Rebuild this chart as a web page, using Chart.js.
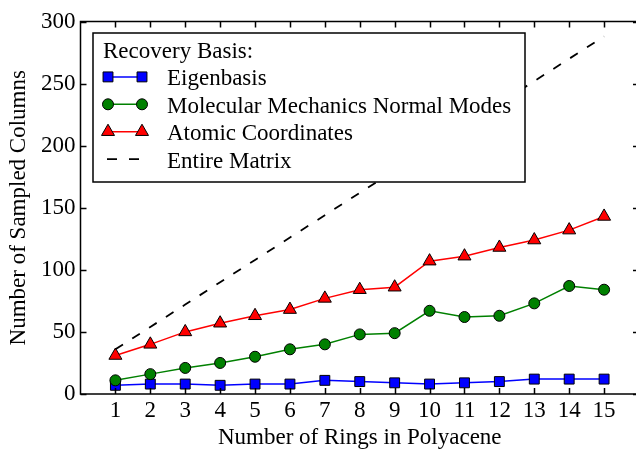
<!DOCTYPE html>
<html><head><meta charset="utf-8">
<script src="https://cdn.jsdelivr.net/npm/chart.js@4.4.0/dist/chart.umd.min.js"></script>
<style>html,body{margin:0;padding:0;background:#fff;overflow:hidden}canvas{display:block}</style>
</head><body>
<canvas id="c" width="639" height="449"></canvas>
<script>
const rings = [1,2,3,4,5,6,7,8,9,10,11,12,13,14,15];
const eigenbasis = [7,8,8,7,8,8,11,10,9,8,9,10,12,12,12];
const normalModes = [11,16,21,25,30,36,40,48,49,67,62,63,73,87,84];
const atomicCoords = [31,40,50,57,63,68,77,84,86,107,111,118,124,132,143];
const entireMatrix = [36,54,72,90,108,126,144,162,180,198,216,234,252,270,288];
const yTicks = [0,50,100,150,200,250,300];
const xTicks = rings;
const seriesNames = ['Eigenbasis','Molecular Mechanics Normal Modes','Atomic Coordinates','Entire Matrix'];
const legendTitle = 'Recovery Basis:';
const xTitle = 'Number of Rings in Polyacene';
const yTitle = 'Number of Sampled Columns';

const FONT = "'Liberation Serif', 'Times New Roman', serif";
Chart.defaults.font.family = FONT;
Chart.defaults.font.size = 23;
Chart.defaults.color = '#000';

const pts = arr => rings.map((r,i)=>({x:r,y:arr[i]}));

const styles = [
  {color:'#0000ff', pointStyle:'rect', radius:7},
  {color:'#008000', pointStyle:'circle', radius:5.5},
  {color:'#ff0000', pointStyle:'triangle', radius:7.5},
  {color:'#000000', pointStyle:false, radius:0, dash:[9,11]}
];
const seriesData = [eigenbasis, normalModes, atomicCoords, entireMatrix];

const datasets = seriesData.map((d,i)=>({
  label: seriesNames[i],
  data: pts(d),
  borderColor: styles[i].color,
  backgroundColor: styles[i].color,
  borderWidth: styles[i].dash ? 1.8 : 1.5,
  borderDash: styles[i].dash || [],
  pointStyle: styles[i].pointStyle || 'circle',
  pointRadius: styles[i].radius,
  pointHoverRadius: styles[i].radius,
  pointBackgroundColor: styles[i].color,
  pointBorderColor: '#000',
  pointBorderWidth: 1,
  tension: 0,
  clip: false,
  order: 4 - i
}));

const framePlugin = {
  id: 'frame',
  afterDraw(chart) {
    const {ctx, chartArea: a, scales: {x, y}} = chart;
    ctx.save();
    ctx.strokeStyle = '#000';
    ctx.lineWidth = 1.5;
    ctx.beginPath();
    xTicks.forEach(v => {
      const px = Math.round(x.getPixelForValue(v)) + 0.5;
      ctx.moveTo(px, a.bottom); ctx.lineTo(px, a.bottom - 6);
      ctx.moveTo(px, a.top); ctx.lineTo(px, a.top + 6);
    });
    yTicks.forEach(v => {
      const py = Math.round(y.getPixelForValue(v)) + 0.5;
      ctx.moveTo(a.left, py); ctx.lineTo(a.left + 6, py);
      ctx.moveTo(a.right, py); ctx.lineTo(a.right - 6, py);
    });
    ctx.stroke();
    ctx.lineWidth = 1.5;
    ctx.strokeRect(a.left, a.top, a.right - a.left, a.bottom - a.top);

    // legend
    const L = 93, T = 33, R = 525, B = 182;
    ctx.fillStyle = '#fff';
    ctx.fillRect(L, T, R - L, B - T);
    ctx.strokeStyle = '#000';
    ctx.lineWidth = 1.5;
    ctx.strokeRect(L, T, R - L, B - T);
    ctx.font = '23px ' + FONT;
    ctx.fillStyle = '#000';
    ctx.textBaseline = 'alphabetic';
    ctx.textAlign = 'left';
    ctx.fillText(legendTitle, 103, 58);
    const step = 27.4;
    seriesNames.forEach((name, i) => {
      const base = 58 + step * (i + 1);
      const ly = base - 8.5;
      const st = styles[i];
      ctx.save();
      ctx.strokeStyle = st.color;
      ctx.lineWidth = st.dash ? 1.8 : 1.5;
      ctx.setLineDash(st.dash ? [10, 12] : []);
      ctx.beginPath();
      if (st.dash) { ctx.moveTo(107, ly); ctx.lineTo(141, ly); }
      else { ctx.moveTo(108, ly); ctx.lineTo(142, ly); }
      ctx.stroke();
      ctx.setLineDash([]);
      if (st.pointStyle) {
        ctx.fillStyle = st.color;
        ctx.strokeStyle = '#000';
        ctx.lineWidth = 1;
        [108, 142].forEach(px => Chart.helpers.drawPoint(ctx, {pointStyle: st.pointStyle, radius: st.radius, rotation: 0, borderWidth: 1}, px, ly));
      }
      ctx.restore();
      ctx.fillStyle = '#000';
      ctx.fillText(name, 167, base);
    });
    ctx.restore();
  }
};

new Chart(document.getElementById('c'), {
  type: 'line',
  data: { datasets },
  options: {
    responsive: false,
    animation: false,
    events: [],
    layout: { autoPadding: false, padding: { top: 21.5, right: 0, left: 0, bottom: 0 } },
    plugins: { legend: { display: false }, tooltip: { enabled: false } },
    scales: {
      x: {
        type: 'linear', min: 0, max: 16,
        afterBuildTicks: s => { s.ticks = xTicks.map(v => ({value: v})); },
        afterFit: s => { s.height = 55; s.paddingLeft = 0; s.paddingRight = 0; },
        grid: { display: false, drawTicks: false },
        border: { display: false },
        ticks: { padding: 3, autoSkip: false, maxRotation: 0, font: { size: 23 } },
        title: { display: true, text: xTitle, font: { size: 23, lineHeight: 1 }, padding: 0 }
      },
      y: {
        min: 0, max: 300,
        afterBuildTicks: s => { s.ticks = yTicks.map(v => ({value: v})); },
        afterFit: s => { s.width = 80.5; s.paddingTop = 0; s.paddingBottom = 0; },
        grid: { display: false, drawTicks: false },
        border: { display: false },
        ticks: { padding: 5, font: { size: 23 } },
        title: { display: true, text: yTitle, font: { size: 23 }, padding: { top: 5, bottom: 0 } }
      }
    }
  },
  plugins: [framePlugin]
});
</script>
</body></html>
